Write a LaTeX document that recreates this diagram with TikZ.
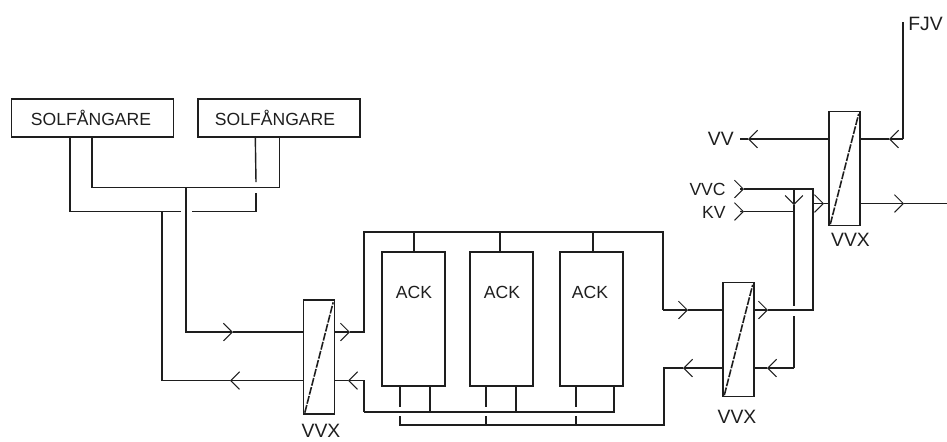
\documentclass[tikz,border=0pt]{standalone}
\usepackage{fontspec}
\setmainfont{Liberation Sans}
\usepackage{xcolor}
\definecolor{pipegray}{RGB}{30,30,30}
\usetikzlibrary{arrows.meta,positioning,calc}
\tikzset{
  pipe/.style={line width=0.8pt, pipegray},
  flow/.style={pipe, -{Straight Barb[length=5pt, width=10pt, line width=0.6pt]}},
  solbox/.style={draw=pipegray, line width=0.8pt, minimum width=3.24cm, minimum height=0.76cm},
  ackbox/.style={draw=pipegray, line width=0.8pt, minimum width=1.26cm, minimum height=2.68cm},
  vvxbox/.style={draw=pipegray, line width=0.8pt, minimum width=0.62cm, minimum height=2.28cm},
  lbl/.style={font=\fontsize{10}{12}\selectfont, text=pipegray, inner sep=0pt},
  biglbl/.style={font=\fontsize{11}{13}\selectfont, text=pipegray, inner sep=0pt}
}
\begin{document}
\begin{tikzpicture}[x=0.02cm, y=-0.02cm]
  \useasboundingbox (0,0) rectangle (947,441);

  %% Collectors
  \node[solbox] (sol1) at (92.5,118) {};
  \node[solbox] (sol2) at (279,118) {};
  \node[lbl] (sollbl1) at (91,117.5) {SOLFÅNGARE};
  \node[lbl] (sollbl2) at (275,117.5) {SOLFÅNGARE};

  %% Accumulators
  \node[ackbox] (ack1) at (413.5,319) {};
  \node[ackbox] (ack2) at (501.5,319) {};
  \node[ackbox] (ack3) at (591.5,319) {};
  \node[lbl] (acklbl1) at (414,292.5) {ACK};
  \node[lbl] (acklbl2) at (502,292.5) {ACK};
  \node[lbl] (acklbl3) at (590,292.5) {ACK};

  %% Heat exchangers
  \node[vvxbox] (vvx1) at (319,357) {};
  \node[vvxbox] (vvx2) at (738.5,339.5) {};
  \node[vvxbox] (vvx3) at (844.5,168.5) {};
  \node[biglbl] (vvxlbl1) at (321,431) {VVX};
  \node[biglbl] (vvxlbl2) at (737,417) {VVX};
  \node[biglbl] (vvxlbl3) at (850.5,240) {VVX};
  \foreach \n in {vvx1,vvx2,vvx3}
    \draw[line width=0.9pt, pipegray, dash pattern=on 4.5pt off 0.8pt] ($(\n.south west)+(2,-2)$) -- ($(\n.north east)+(-2,3)$);

  %% Outside connections
  \node[biglbl, anchor=east] (vv) at (734,139) {VV};
  \node[lbl, anchor=east] (vvc) at (726,189.5) {VVC};
  \node[lbl, anchor=east] (kv) at (726,212) {KV};
  \node[biglbl, anchor=west] (fjv) at (908,24) {FJV};

  %% Collector loop, cold side
  \coordinate (s1a) at ($(sol1.south west)+(59,0)$);
  \coordinate (s1b) at ($(sol1.south west)+(81,0)$);
  \coordinate (s2a) at ($(sol2.south west)+(58,0)$);
  \coordinate (s2b) at ($(sol2.south west)+(82,0)$);
  \coordinate (hot) at (186,187.5);
  \coordinate (cold) at (162,211.5);
  \draw[pipe] (s1b) |- (hot) -| (s2b);
  \draw[pipe] (s1a) |- (cold) -- (181,211.5);
  \draw[pipe] (192,211.5) -| (256,193);
  \draw[pipe] (256,182) -- (s2a);

  %% Collector loop to first exchanger
  \coordinate (t1) at (233,332);
  \coordinate (t2) at (230,380.5);
  \draw[flow] (hot) |- (t1);
  \draw[pipe] (t1) -- (t1 -| vvx1.west);
  \draw[flow] (vvx1.west |- t2) -- (t2);
  \draw[pipe] (t2) -| (cold);

  %% Accumulator headers
  \coordinate (t3) at (350,332);
  \coordinate (t4) at (348,380.5);
  \coordinate (top) at (364,232);
  \coordinate (low) at (364,412);
  \coordinate (t5) at (688,310);
  \coordinate (t6) at (683,368);
  \draw[flow] (vvx1.east |- t3) -- (t3);
  \draw[pipe] (t3) -| (top) -| (663,310);
  \draw[flow] (663,310) -- (t5);
  \draw[pipe] (t5) -- (t5 -| vvx2.west);
  \draw[flow] (low) |- (t4);
  \draw[pipe] (t4) -- (t4 -| vvx1.east);
  \draw[flow] (vvx2.west |- t6) -- (t6);
  \draw[pipe] (t6) -- (664,368) |- (400,425) -- (400,416);
  \foreach \x in {414,500,593}
    \draw[pipe] (\x,232) -- (\x,252);
  \draw[pipe] (low) -- (614,412) -- (614,386);
  \foreach \x in {430,516}
    \draw[pipe] (\x,386) -- (\x,412);
  \foreach \x in {400,486,576}
    \draw[pipe] (\x,386) -- (\x,407);
  \foreach \x in {486,576}
    \draw[pipe] (\x,416) -- (\x,425);

  %% Second exchanger to third
  \coordinate (t7) at (768,310);
  \coordinate (t8) at (767,368);
  \coordinate (t9) at (824,203.5);
  \coordinate (t10) at (794,205);
  \coordinate (t11) at (744,189);
  \coordinate (t12) at (744,211.5);
  \coordinate (drop) at (794,368);
  \draw[flow] (vvx2.east |- t7) -- (t7);
  \draw[pipe] (t7) -- (813,310) |- (t11);
  \draw[flow] (vvc.east) ++(14,-0.5) -- (t11);
  \draw[flow] (kv.east) ++(14,-0.5) -- (t12);
  \draw[pipe] (t12) -- (794,211.5);
  \draw[flow] (794,189) -- (t10);
  \draw[pipe] (t10) -- (794,306);
  \draw[pipe] (794,316) -- (drop);
  \draw[flow] (drop) -- (t8);
  \draw[pipe] (t8) -- (t8 -| vvx2.east);
  \draw[flow] (813,203.5) -- (t9);
  \draw[pipe] (t9) -- (t9 -| vvx3.west);

  %% District heating side
  \coordinate (t13) at (889,139);
  \coordinate (t14) at (904,203.5);
  \coordinate (t15) at (748,139);
  \coordinate (fjvend) at (903,22);
  \coordinate (fjvbend) at (903,139);
  \draw[pipe] (fjvend) -- (fjvbend);
  \draw[flow] (fjvbend) -- (t13);
  \draw[pipe] (t13) -- (t13 -| vvx3.east);
  \draw[flow] (vvx3.west |- t15) -- (t15);
  \draw[pipe] (t15) -- (740,139);
  \draw[flow] (vvx3.east |- t14) -- (t14);
  \draw[pipe] (t14) -- (947,203.5);
\end{tikzpicture}
\end{document}
